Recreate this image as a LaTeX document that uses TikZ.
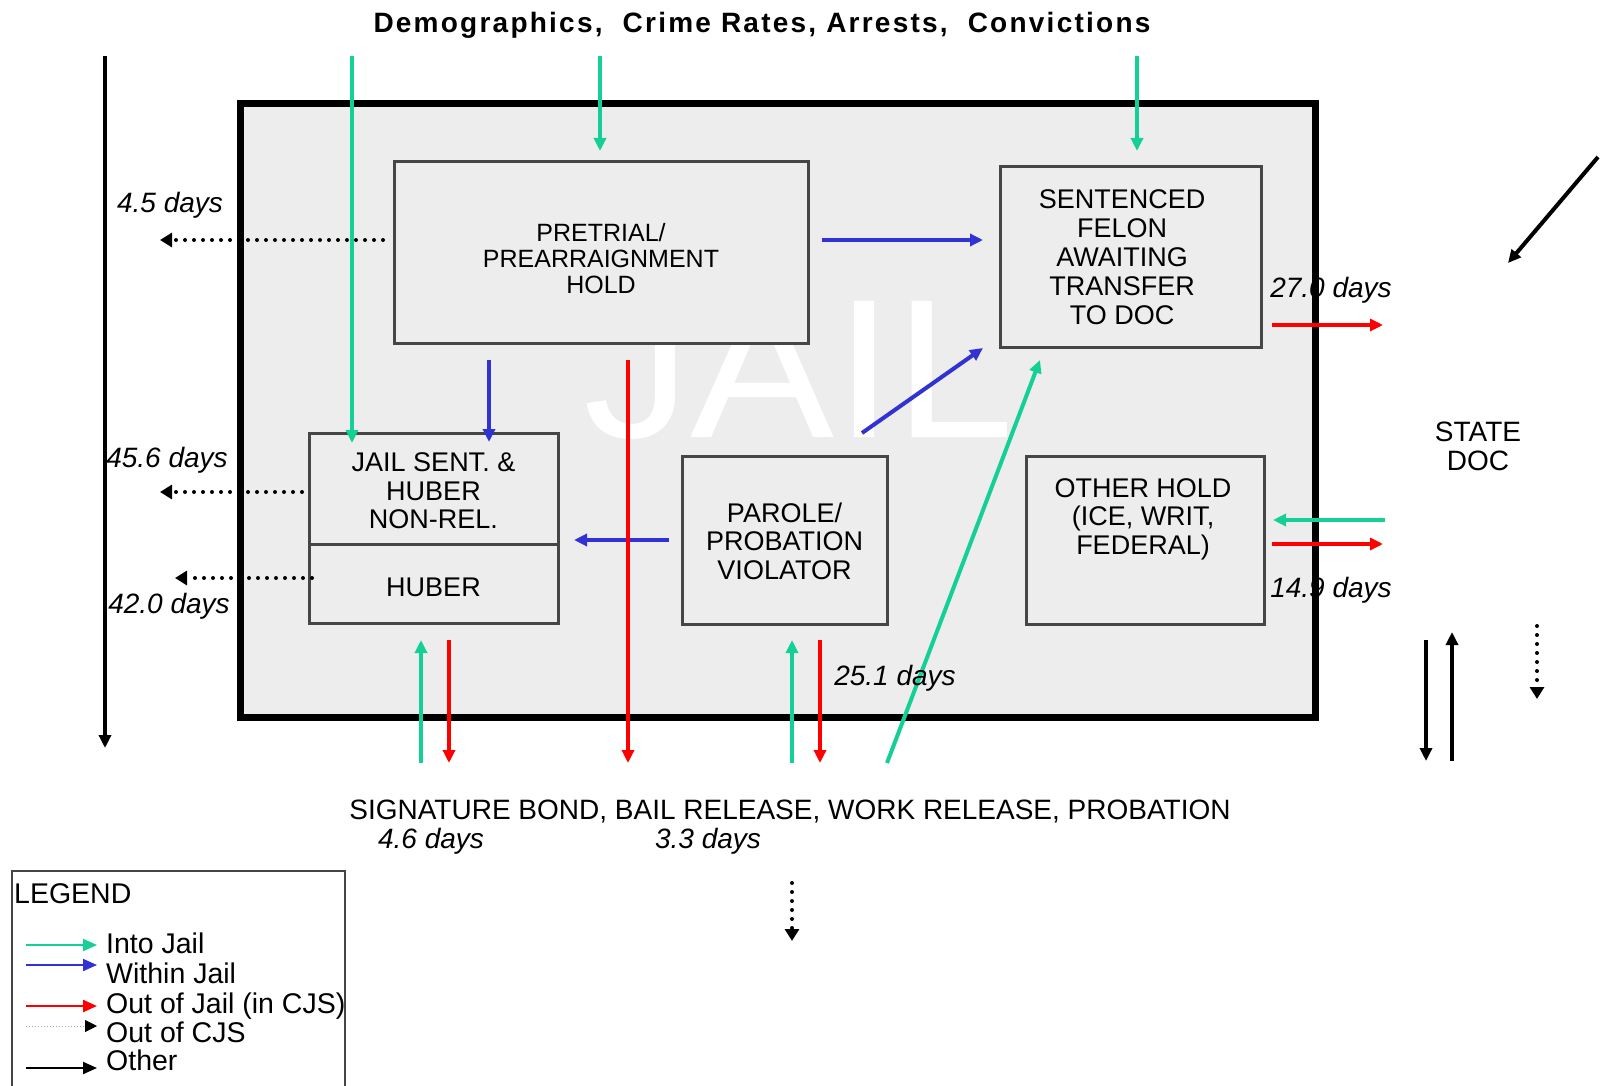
\documentclass[tikz,border=0pt]{standalone}
\usepackage{fontspec}
\setmainfont{Liberation Sans}
\newfontfamily\titlefont{Liberation Sans}[LetterSpace=8]
\usepackage{graphicx}
\usetikzlibrary{arrows.meta,calc}
\definecolor{cgreen}{RGB}{20,208,150}
\definecolor{cblue}{RGB}{50,50,210}
\definecolor{cred}{RGB}{255,0,0}
\definecolor{jailbg}{RGB}{237,237,237}
\definecolor{boxline}{RGB}{70,70,70}
\begin{document}
\begin{tikzpicture}[x=1pt,y=-1pt,
  arrtip/.style={-{Triangle[length=13pt,width=12pt]}},
  gr/.style={draw=cgreen, line width=4pt, arrtip},
  bl/.style={draw=cblue, line width=4pt, arrtip},
  rd/.style={draw=cred, line width=4pt, arrtip},
  blk/.style={draw=black, line width=4pt, arrtip},
  dotarrow/.style={draw=black, line width=4pt, dash pattern=on 0pt off 9pt, line cap=round, -{Triangle[length=12pt,width=14pt]}},
  box/.style={draw=boxline, line width=3pt, fill=jailbg, inner sep=0pt, outer sep=0pt},
  btext/.style={align=center, inner sep=0pt, font=\fontsize{27}{28.5}\selectfont},
  lbl/.style={inner sep=0pt, text height=20pt, text depth=0pt},
  days/.style={lbl, font=\fontsize{28}{28}\selectfont\itshape},
  legtext/.style={inner sep=0pt, text height=20pt, text depth=0pt, anchor=west, font=\fontsize{28.5}{29}\selectfont},
  legarrow/.style={line width=2pt, -{Triangle[length=14pt,width=12pt]}},
]
\useasboundingbox (0,0) rectangle (1606,1086);
\fill[white] (0,0) rectangle (1606,1086);

% jail frame
\node[draw=black, line width=7pt, fill=jailbg, inner sep=0pt, minimum width=1075pt, minimum height=613pt] (jail) at (777.5,410.5) {};
\node[text=white, inner sep=0pt, font=\fontsize{198}{198}\selectfont] (jailT) at (799,370) {\scalebox{1.09}[1]{JAIL}};

% title
\node[inner sep=0pt, text height=20pt, text depth=0pt, font=\titlefont\bfseries\fontsize{28}{28}\selectfont] (title) at (762,23) {Demographics,\ \ Crime Rates, Arrests,\ \ Convictions};

% boxes
\node[box, minimum width=414pt, minimum height=181pt] (pre) at (601,252.5) {};
\node[btext, font=\fontsize{25}{26}\selectfont] (preT) at (601,259) {PRETRIAL/\\PREARRAIGNMENT\\HOLD};
\node[box, minimum width=261pt, minimum height=180pt] (sen) at (1130.5,257) {};
\node[btext, font=\fontsize{27}{29}\selectfont] (senT) at (1122,257) {SENTENCED\\FELON\\AWAITING\\TRANSFER\\TO DOC};
\node[box, minimum width=249pt, minimum height=111pt] (js) at (433.5,488.5) {};
\node[btext] (jsT) at (433.5,491) {JAIL SENT. \&\\HUBER\\NON-REL.};
\node[box, minimum width=249pt, minimum height=79pt] (hub) at (433.5,583.5) {};
\node[btext] (hubT) at (433.5,587) {HUBER};
\node[box, minimum width=205pt, minimum height=168pt] (par) at (784.5,540) {};
\node[btext] (parT) at (784.5,541) {PAROLE/\\PROBATION\\VIOLATOR};
\node[box, minimum width=238pt, minimum height=168pt] (oth) at (1145,540) {};
\node[btext] (othT) at (1143,519) {OTHER HOLD\\(ICE, WRIT,\\FEDERAL)};

% coordinates
\coordinate (g1s) at (352,56);  \coordinate (g1e) at (352,443);
\coordinate (g2s) at (600,56);  \coordinate (g2e) at (600,151);
\coordinate (g3s) at (1137,56); \coordinate (g3e) at (1137,151);
\coordinate (g4s) at (887,763); \coordinate (g4e) at (1040,360);
\coordinate (g5s) at (421,763); \coordinate (g5e) at (421,640);
\coordinate (g6s) at (792,763); \coordinate (g6e) at (792,640);
\coordinate (g7s) at (1385,520); \coordinate (g7e) at (1273,520);
\coordinate (b1s) at (822,240); \coordinate (b1e) at (983,240);
\coordinate (b2s) at (489,360); \coordinate (b2e) at (489,442);
\coordinate (b3s) at (862,433); \coordinate (b3e) at (983,348);
\coordinate (b4s) at (669,540); \coordinate (b4e) at (574,540);
\coordinate (r1s) at (628,360); \coordinate (r1e) at (628,763);
\coordinate (r2s) at (449,640); \coordinate (r2e) at (449,763);
\coordinate (r3s) at (820,640); \coordinate (r3e) at (820,763);
\coordinate (r4s) at (1272,325); \coordinate (r4e) at (1383,325);
\coordinate (r5s) at (1272,544); \coordinate (r5e) at (1383,544);
\coordinate (k1s) at (105,56);  \coordinate (k1e) at (105,748);
\coordinate (k2s) at (1598,157); \coordinate (k2e) at (1508,263);
\coordinate (k3s) at (1426,640); \coordinate (k3e) at (1426,761);
\coordinate (k4s) at (1452,761); \coordinate (k4e) at (1452,632);
\coordinate (d1s) at (383,240); \coordinate (d1e) at (160,240);
\coordinate (d2s) at (302,492); \coordinate (d2e) at (160,492);
\coordinate (d3s) at (312,578); \coordinate (d3e) at (175,578);
\coordinate (d4s) at (1537,626); \coordinate (d4e) at (1537,699);
\coordinate (d5s) at (792,883); \coordinate (d5e) at (792,941);

% dotted (out of CJS)
\draw[dotarrow] (d1s) -- (d1e);
\draw[dotarrow] (d2s) -- (d2e);
\draw[dotarrow] (d3s) -- (d3e);
\draw[dotarrow] (d4s) -- (d4e);
\draw[dotarrow] (d5s) -- (d5e);

% green
\draw[gr] (g1s) -- (g1e);
\draw[gr] (g2s) -- (g2e);
\draw[gr] (g3s) -- (g3e);
\draw[gr] (g4s) -- (g4e);
\draw[gr] (g5s) -- (g5e);
\draw[gr] (g6s) -- (g6e);
\draw[gr] (g7s) -- (g7e);
% blue
\draw[bl] (b1s) -- (b1e);
\draw[bl] (b2s) -- (b2e);
\draw[bl] (b3s) -- (b3e);
\draw[bl] (b4s) -- (b4e);
% red
\draw[rd] (r1s) -- (r1e);
\draw[rd] (r2s) -- (r2e);
\draw[rd] (r3s) -- (r3e);
\draw[rd] (r4s) -- (r4e);
\draw[rd] (r5s) -- (r5e);
% black
\draw[blk] (k1s) -- (k1e);
\draw[blk] (k2s) -- (k2e);
\draw[blk] (k3s) -- (k3e);
\draw[blk] (k4s) -- (k4e);

% day labels
\node[days] (l1) at (170,202) {4.5 days};
\node[days] (l2) at (167,457) {45.6 days};
\node[days] (l3) at (169,603) {42.0 days};
\node[days] (l4) at (1331,287) {27.0 days};
\node[days] (l5) at (1331,587) {14.9 days};
\node[days] (l6) at (895,675) {25.1 days};
\node[days] (l7) at (431,838) {4.6 days};
\node[days] (l8) at (708,838) {3.3 days};

% other texts
\node[lbl, font=\fontsize{28}{28}\selectfont] (sig) at (790,809) {SIGNATURE BOND, BAIL RELEASE, WORK RELEASE, PROBATION};
\node[align=center, inner sep=0pt, font=\fontsize{28}{29}\selectfont] (doc) at (1478,446) {STATE\\DOC};

% legend
\node[draw=boxline, line width=2pt, inner sep=0pt, minimum width=333pt, minimum height=240pt, anchor=north west] (leg) at (11,870) {};
\node[legtext] (legT) at (14,893) {LEGEND};
\coordinate (la1) at (26,945);  \coordinate (lb1) at (97,945);
\coordinate (la2) at (26,965);  \coordinate (lb2) at (97,965);
\coordinate (la3) at (26,1006); \coordinate (lb3) at (97,1006);
\coordinate (la4) at (26,1026); \coordinate (lb4) at (97,1026);
\coordinate (la5) at (26,1068); \coordinate (lb5) at (97,1068);
\draw[legarrow, draw=cgreen] (la1) -- (lb1);
\draw[legarrow, draw=cblue] (la2) -- (lb2);
\draw[legarrow, draw=cred, line width=2.5pt] (la3) -- (lb3);
\draw[line width=1pt, draw=gray!70, dotted, -{Triangle[length=12pt,width=12pt,color=black]}] (la4) -- (lb4);
\draw[legarrow, draw=black] (la5) -- (lb5);
\node[legtext] (t1) at (106,943) {Into Jail};
\node[legtext] (t2) at (106,973) {Within Jail};
\node[legtext] (t3) at (106,1003) {Out of Jail (in CJS)};
\node[legtext] (t4) at (106,1032) {Out of CJS};
\node[legtext] (t5) at (106,1060) {Other};
\end{tikzpicture}
\end{document}
